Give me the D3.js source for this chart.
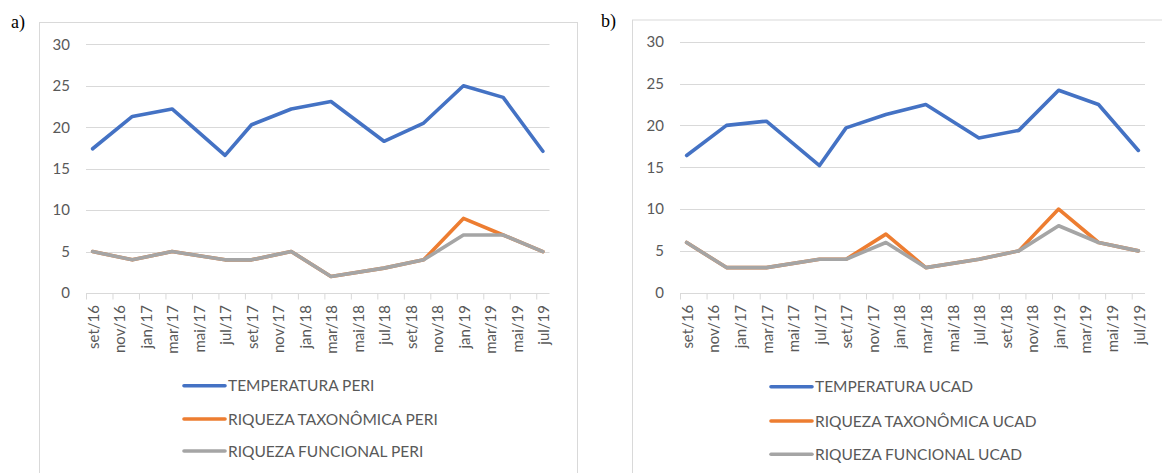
<!DOCTYPE html>
<html>
<head>
<meta charset="utf-8">
<script src="https://cdn.jsdelivr.net/npm/d3@7"></script>
<style>
  html, body { margin: 0; padding: 0; background: #fff; }
  svg { display: block; }
  text { font-family: Lato, "Liberation Sans", sans-serif; }
</style>
</head>
<body>
<svg id="chart" width="1162" height="473"></svg>
<script>
// Month axis: one slot per month from set/16 to jul/19, labelled every two months
const axisStart = { year: 2016, month: 9 };
const axisMonths = 35;
const tickLabels = ["set/16", "nov/16", "jan/17", "mar/17", "mai/17", "jul/17", "set/17", "nov/17", "jan/18",
                    "mar/18", "mai/18", "jul/18", "set/18", "nov/18", "jan/19", "mar/19", "mai/19", "jul/19"];
const yTicks = [0, 5, 10, 15, 20, 25, 30];

// Sampling campaigns (year-month)
const sampleDates = ["2016-09", "2016-12", "2017-03", "2017-07", "2017-09", "2017-12",
                     "2018-03", "2018-07", "2018-10", "2019-01", "2019-04", "2019-07"];

// Panel a) PERI
const tempPeri      = [17.4, 21.3, 22.2, 16.6, 20.3, 22.2, 23.1, 18.3, 20.5, 25.0, 23.6, 17.1];
const riqTaxPeri    = [5, 4, 5, 4, 4, 5, 2, 3, 4, 9, 7, 5];
const riqFuncPeri   = [5, 4, 5, 4, 4, 5, 2, 3, 4, 7, 7, 5];
const namesPeri     = ["TEMPERATURA PERI", "RIQUEZA TAXONÔMICA PERI", "RIQUEZA FUNCIONAL PERI"];

// Panel b) UCAD
const tempUcad      = [16.4, 20.0, 20.5, 15.2, 19.7, 21.3, 22.5, 18.5, 19.4, 24.2, 22.5, 17.0];
const riqTaxUcad    = [6, 3, 3, 4, 4, 7, 3, 4, 5, 10, 6, 5];
const riqFuncUcad   = [6, 3, 3, 4, 4, 6, 3, 4, 5, 8, 6, 5];
const namesUcad     = ["TEMPERATURA UCAD", "RIQUEZA TAXONÔMICA UCAD", "RIQUEZA FUNCIONAL UCAD"];

const seriesColors = ["#4472C4", "#ED7D31", "#A5A5A5"];

function monthIndex(s) {
  const [y, m] = s.split("-").map(Number);
  return (y - axisStart.year) * 12 + (m - axisStart.month);
}

const svg = d3.select("#chart");
const grid = "#d9d9d9";
const textCol = "#595959";

function drawPanel(p) {
  const g = svg.append("g");

  // chart frame
  g.append("rect")
    .attr("x", p.box[0]).attr("y", p.box[1])
    .attr("width", p.box[2] - p.box[0]).attr("height", 500)
    .attr("fill", "none").attr("stroke", grid).attr("stroke-width", 1);

  // panel letter
  svg.append("text")
    .attr("x", p.labelX).attr("y", p.labelY)
    .style("font-family", "'Liberation Serif', serif")
    .style("font-size", "18px")
    .attr("fill", "#000")
    .text(p.label);

  const x = d3.scaleLinear().domain([0, axisMonths]).range(p.xRange);
  const y = d3.scaleLinear().domain([0, 30]).range(p.yRange);

  // horizontal gridlines
  g.append("g").selectAll("line").data(yTicks.filter(d => d > 0)).join("line")
    .attr("x1", p.xRange[0]).attr("x2", p.xRange[1])
    .attr("y1", d => Math.round(y(d)) + 0.5).attr("y2", d => Math.round(y(d)) + 0.5)
    .attr("stroke", grid).attr("stroke-width", 1);

  // y axis labels
  const yAxis = d3.axisLeft(y).tickValues(yTicks).tickSize(0).tickPadding(0);
  const ya = g.append("g")
    .attr("transform", `translate(${p.xRange[0] - 16},0)`)
    .call(yAxis);
  ya.select(".domain").remove();
  ya.selectAll("text")
    .attr("fill", textCol)
    .style("font-family", "Lato, sans-serif")
    .style("font-size", "15px");

  // x axis: line with ticks at the start of every second month
  const tickPos = tickLabels.map((_, i) => i * 2);
  const xAxis = d3.axisBottom(x).tickValues(tickPos).tickSize(6).tickFormat("");
  const xa = g.append("g")
    .attr("transform", `translate(0,${Math.round(p.yRange[0]) + 0.5})`)
    .call(xAxis);
  xa.select(".domain").attr("stroke", grid).attr("d", `M${p.xRange[0]},0H${p.xRange[1]}`);
  xa.selectAll(".tick line").attr("stroke", grid);

  // rotated month labels centred in their month slot
  g.append("g").selectAll("text").data(tickLabels).join("text")
    .attr("transform", (d, i) => `translate(${x(i * 2 + 0.5) + 1},${p.yRange[0] + 12}) rotate(-90)`)
    .attr("text-anchor", "end")
    .attr("dy", "0.35em")
    .attr("fill", textCol)
    .style("font-size", "15px")
    .text(d => d);

  // series lines
  const line = d3.line()
    .x(d => x(d.m + 0.5))
    .y(d => y(d.v));
  p.series.forEach((vals, k) => {
    const pts = sampleDates.map((s, i) => ({ m: monthIndex(s), v: vals[i] }));
    g.append("path")
      .datum(pts)
      .attr("d", line)
      .attr("fill", "none")
      .attr("stroke", seriesColors[k])
      .attr("stroke-width", 3.6)
      .attr("stroke-linejoin", "round")
      .attr("stroke-linecap", "round");
  });

  // legend
  const lg = g.append("g");
  p.names.forEach((n, k) => {
    const ly = p.legendY[k];
    lg.append("line")
      .attr("x1", p.legendX).attr("x2", p.legendX + 41)
      .attr("y1", ly).attr("y2", ly)
      .attr("stroke", seriesColors[k]).attr("stroke-width", 3.6)
      .attr("stroke-linecap", "round");
    lg.append("text")
      .attr("x", p.legendX + 44).attr("y", ly)
      .attr("dy", "0.36em")
      .attr("fill", textCol)
      .style("font-size", "15.5px")
      .text(n);
  });
}

drawPanel({
  label: "a)", labelX: 11, labelY: 28,
  box: [39.5, 22.5, 577.5],
  xRange: [86, 549.5], yRange: [293, 44.3],
  series: [tempPeri, riqTaxPeri, riqFuncPeri],
  names: namesPeri,
  legendX: 184, legendY: [385.7, 419, 451]
});

drawPanel({
  label: "b)", labelX: 601, labelY: 27,
  box: [632.5, 20, 1175],
  xRange: [680, 1145], yRange: [292.7, 41.7],
  series: [tempUcad, riqTaxUcad, riqFuncUcad],
  names: namesUcad,
  legendX: 771, legendY: [386.7, 421, 454.3]
});
</script>
</body>
</html>
